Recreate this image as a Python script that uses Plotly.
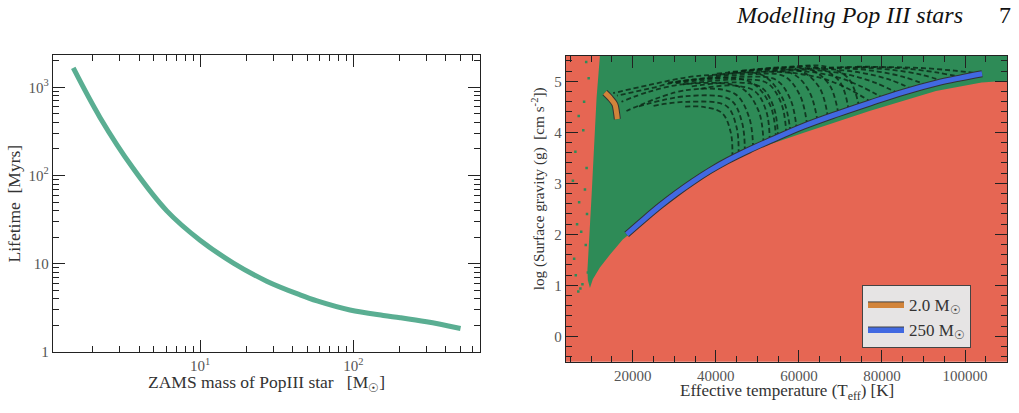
import plotly.graph_objects as go

# ---------------- Left panel data ----------------
zams_mass = [1.49, 2.23, 3.67, 6.07, 10, 16.5, 27.2, 44.9, 58, 95, 157, 202, 300, 500]
lifetime = [1656, 453, 120, 39.8, 18.5, 10.2, 6.36, 4.45, 3.8, 3.0, 2.6, 2.45, 2.2, 1.85]

# ---------------- Right panel data ----------------
# 250 Msun track
t250 = [18550, 22500, 26600, 30600, 34600, 38600, 42700, 47900, 53100, 61100,
        69200, 77200, 85200, 93300, 98700, 104100]
g250 = [2.00, 2.28, 2.56, 2.81, 3.04, 3.25, 3.44, 3.65, 3.84, 4.12,
        4.36, 4.58, 4.79, 4.97, 5.065, 5.15]
# 2.0 Msun track
t2 = [13300, 14500, 15700, 16100, 16300]
g2 = [4.78, 4.68, 4.55, 4.39, 4.26]

# region of valid parameter space (green)
green_T = [12350, 112000, 112000, 104000, 93000, 77000, 61000, 50000, 42600, 34600,
           26600, 18500, 17600, 14500, 12100, 10400, 9700, 9200, 9100, 10100, 11300, 12100]
green_g = [5.6, 5.6, 5.02, 4.98, 4.81, 4.42, 3.99, 3.68, 3.38, 2.98,
           2.50, 1.95, 1.90, 1.60, 1.35, 1.12, 0.95, 1.10, 1.30, 2.76, 4.68, 5.5]
# scattered valid points in the cool strip
dots_T = [8100, 6200, 8900, 5600, 8500, 7100, 9000, 6600, 7600, 8700, 5900, 9200,
          7900, 6900, 8800, 9400, 7400, 6300, 8300, 7000]
dots_g = [4.04, 3.62, 3.30, 3.05, 2.88, 2.63, 2.40, 2.20, 2.05, 1.79, 1.52, 1.25,
          1.02, 0.88, 5.38, 5.06, 0.94, 1.20, 4.60, 4.32]

# intermediate-mass tracks (dashed)
tracks_T = [
    [44000, 43600, 41500, 37000, 32000],
    [45500, 45000, 42500, 33000, 25000],
    [47000, 46300, 43500, 33000, 21000],
    [49000, 48000, 44500, 33000, 18500],
    [51500, 50300, 46000, 33000, 24000, 17300],
    [54500, 53000, 48000, 33000, 24000, 16200],
    [58000, 56000, 51000, 40000, 33000, 24000, 15300],
    [53000, 52200, 49500, 44000, 36000],
    [55000, 54000, 51000, 45000, 34000],
    [57000, 55800, 52500, 46000, 32000],
    [59500, 58000, 54500, 47000, 30000],
    [62000, 60300, 56500, 48500, 28000],
    [64500, 62500, 58500, 50000, 38000],
    [67000, 65000, 60500, 52000, 40000],
    [69500, 67300, 62500, 54000, 43000],
    [72000, 69800, 64500, 56000, 46000],
    [74500, 72000, 66500, 58000, 49000],
    [77500, 72000, 66000, 58000, 50000],
    [80500, 75000, 69000, 61000, 53000],
    [84000, 78500, 72000, 64000, 56000],
    [87500, 82000, 75000, 67000, 59000],
    [91000, 85500, 78500, 70000, 62000],
    [95000, 89500, 82000, 74000, 66000],
    [99500, 93500, 86000, 78000, 70000],
    [104000, 97500, 90000, 82000, 74000],
]
tracks_g = [
    [3.51, 4.00, 4.38, 4.50, 4.50],
    [3.57, 4.10, 4.52, 4.60, 4.52],
    [3.62, 4.20, 4.64, 4.71, 4.50],
    [3.69, 4.30, 4.76, 4.83, 4.42],
    [3.78, 4.42, 4.88, 4.95, 4.80, 4.60],
    [3.88, 4.55, 5.00, 5.02, 4.86, 4.72],
    [4.00, 4.68, 5.13, 5.13, 5.08, 4.93, 4.77],
    [3.83, 4.40, 4.80, 4.92, 4.85],
    [3.90, 4.48, 4.88, 4.98, 4.90],
    [3.97, 4.56, 4.96, 5.04, 4.94],
    [4.05, 4.64, 5.03, 5.09, 4.96],
    [4.14, 4.72, 5.10, 5.14, 4.97],
    [4.22, 4.80, 5.15, 5.18, 5.10],
    [4.29, 4.87, 5.20, 5.22, 5.15],
    [4.37, 4.94, 5.24, 5.25, 5.18],
    [4.43, 5.00, 5.27, 5.27, 5.21],
    [4.50, 5.05, 5.29, 5.29, 5.23],
    [4.59, 4.85, 5.05, 5.17, 5.19],
    [4.66, 4.90, 5.09, 5.20, 5.21],
    [4.76, 4.97, 5.13, 5.22, 5.23],
    [4.84, 5.03, 5.17, 5.24, 5.25],
    [4.92, 5.08, 5.20, 5.26, 5.26],
    [5.00, 5.13, 5.23, 5.27, 5.27],
    [5.08, 5.17, 5.25, 5.28, 5.28],
    [5.15, 5.21, 5.26, 5.28, 5.29],
]

legend_labels = ["2.0 M<sub>☉</sub>", "250 M<sub>☉</sub>"]

# ---------------- style ----------------
RED = "#e66653"
GREEN = "#2e8b57"
ORANGE = "#d2843a"
BLUE = "#4169e1"
CURVE = "#5aae92"
FONT = "Liberation Serif"
TICKC = "#555555"
LABC = "#333333"
W, H = 1019, 413


def dom(x0, x1, y0, y1):
    return [x0 / W, x1 / W], [1 - y1 / H, 1 - y0 / H]


xd1, yd1 = dom(53, 480, 56, 359)
xd2, yd2 = dom(566, 1007, 57, 369)

fig = go.Figure()

# left panel curve
fig.add_trace(go.Scatter(x=zams_mass, y=lifetime, mode="lines",
                         line=dict(color=CURVE, width=5, shape="spline"),
                         xaxis="x", yaxis="y", showlegend=False))

# right panel: green region
fig.add_trace(go.Scatter(x=green_T, y=green_g, mode="lines", fill="toself",
                         fillcolor=GREEN, line=dict(width=0, color=GREEN),
                         xaxis="x2", yaxis="y2", showlegend=False, hoverinfo="skip"))
fig.add_trace(go.Scatter(x=dots_T, y=dots_g, mode="markers",
                         marker=dict(color=GREEN, size=2.5, symbol="square"),
                         xaxis="x2", yaxis="y2", showlegend=False))
for tT, tg in zip(tracks_T, tracks_g):
    fig.add_trace(go.Scatter(x=tT, y=tg, mode="lines",
                             line=dict(color="rgba(10,36,20,0.8)", width=1.8,
                                       dash="5px,3px", shape="spline"),
                             xaxis="x2", yaxis="y2", showlegend=False))

# thick outlined tracks
for tx, ty, col in [(t2, g2, ORANGE), (t250, g250, BLUE)]:
    fig.add_trace(go.Scatter(x=tx, y=ty, mode="lines",
                             line=dict(color="#333333", width=7, shape="spline"),
                             xaxis="x2", yaxis="y2", showlegend=False))
    fig.add_trace(go.Scatter(x=tx, y=ty, mode="lines",
                             line=dict(color=col, width=5, shape="spline"),
                             xaxis="x2", yaxis="y2", showlegend=False))

# legend proxies
for lab, col in zip(legend_labels, [ORANGE, BLUE]):
    fig.add_trace(go.Scatter(x=[None], y=[None], mode="lines", fill="toself",
                             fillcolor=col, line=dict(color="#444444", width=1),
                             name=lab, xaxis="x2", yaxis="y2", showlegend=True))

tickfont = dict(family=FONT, size=15, color=TICKC)
common = dict(showline=True, linecolor="#222222", linewidth=1.3, mirror="allticks",
              ticks="inside", ticklen=12, tickwidth=1.1, tickcolor="#222222",
              showgrid=False, zeroline=False, tickfont=tickfont)

minor_x1 = [2, 3, 4, 5, 6, 7, 8, 9, 20, 30, 40, 50, 60, 70, 80, 90, 200, 300, 400, 500, 600]
minor_y1 = [2, 3, 4, 5, 6, 7, 8, 9, 20, 30, 40, 50, 60, 70, 80, 90, 200, 300, 400, 500,
            600, 700, 800, 900, 2000]

fig.update_layout(
    width=W, height=H,
    margin=dict(l=0, r=0, t=0, b=0),
    paper_bgcolor="white", plot_bgcolor="white",
    xaxis=dict(domain=xd1, type="log", range=[0.041, 2.826], anchor="y",
               tickmode="array", tickvals=[10, 100],
               ticktext=["10<sup>1</sup>", "10<sup>2</sup>"],
               minor=dict(tickmode="array", tickvals=minor_x1, ticks="inside",
                          ticklen=6, tickcolor="#222222"),
               **common),
    yaxis=dict(domain=yd1, type="log", range=[0, 3.367], anchor="x",
               tickmode="array", tickvals=[1, 10, 100, 1000],
               ticktext=["1", "10", "10<sup>2</sup>", "10<sup>3</sup>"],
               minor=dict(tickmode="array", tickvals=minor_y1, ticks="inside",
                          ticklen=6, tickcolor="#222222"),
               **common),
    xaxis2=dict(domain=xd2, range=[3940, 110100], anchor="y2",
                tick0=0, dtick=20000, tickformat="d",
                minor=dict(dtick=5000, ticks="inside", ticklen=6, tickcolor="#222222"),
                **common),
    yaxis2=dict(domain=yd2, range=[-0.5, 5.5], anchor="x2",
                tick0=0, dtick=1,
                minor=dict(dtick=0.2, ticks="inside", ticklen=6, tickcolor="#222222"),
                **common),
    legend=dict(x=862 / W, y=1 - 291 / H, xanchor="left", yanchor="top",
                bgcolor="#e6e4e4", bordercolor="#444444", borderwidth=1,
                font=dict(family=FONT, size=17, color=LABC),
                itemwidth=36, tracegroupgap=2),
    shapes=[dict(type="rect", xref="x2 domain", yref="y2 domain", x0=0, x1=1, y0=0, y1=1,
                 fillcolor=RED, line=dict(width=0), layer="below")],
)

ann = [
    dict(text="ZAMS mass of PopIII star &nbsp; [M<sub>☉</sub>]", x=266.5 / W, y=1 - 391 / H,
         font=dict(family=FONT, size=17.5, color=LABC)),
    dict(text="Lifetime&nbsp; [Myrs]", x=14 / W, y=1 - 207.5 / H, textangle=-90,
         font=dict(family=FONT, size=17.5, color=LABC)),
    dict(text="Effective temperature (T<sub>eff</sub>) [K]", x=786.5 / W, y=1 - 400 / H,
         font=dict(family=FONT, size=17, color=LABC)),
    dict(text="log (Surface gravity (g)&nbsp; [cm s<sup>-2</sup>])", x=538 / W, y=1 - 193 / H,
         textangle=-90, font=dict(family=FONT, size=15.2, color=LABC)),
    dict(text="<i>Modelling Pop III stars</i>", x=965 / W, y=1 - 15 / H,
         font=dict(family=FONT, size=24, color="#111111"), xanchor="right"),
    dict(text="7", x=1013 / W, y=1 - 15 / H,
         font=dict(family=FONT, size=24, color="#111111"), xanchor="right"),
]
for a in ann:
    a.setdefault("xanchor", "center")
    a.update(xref="paper", yref="paper", showarrow=False, yanchor="middle")
fig.update_layout(annotations=ann)

fig.write_html("out.html")
